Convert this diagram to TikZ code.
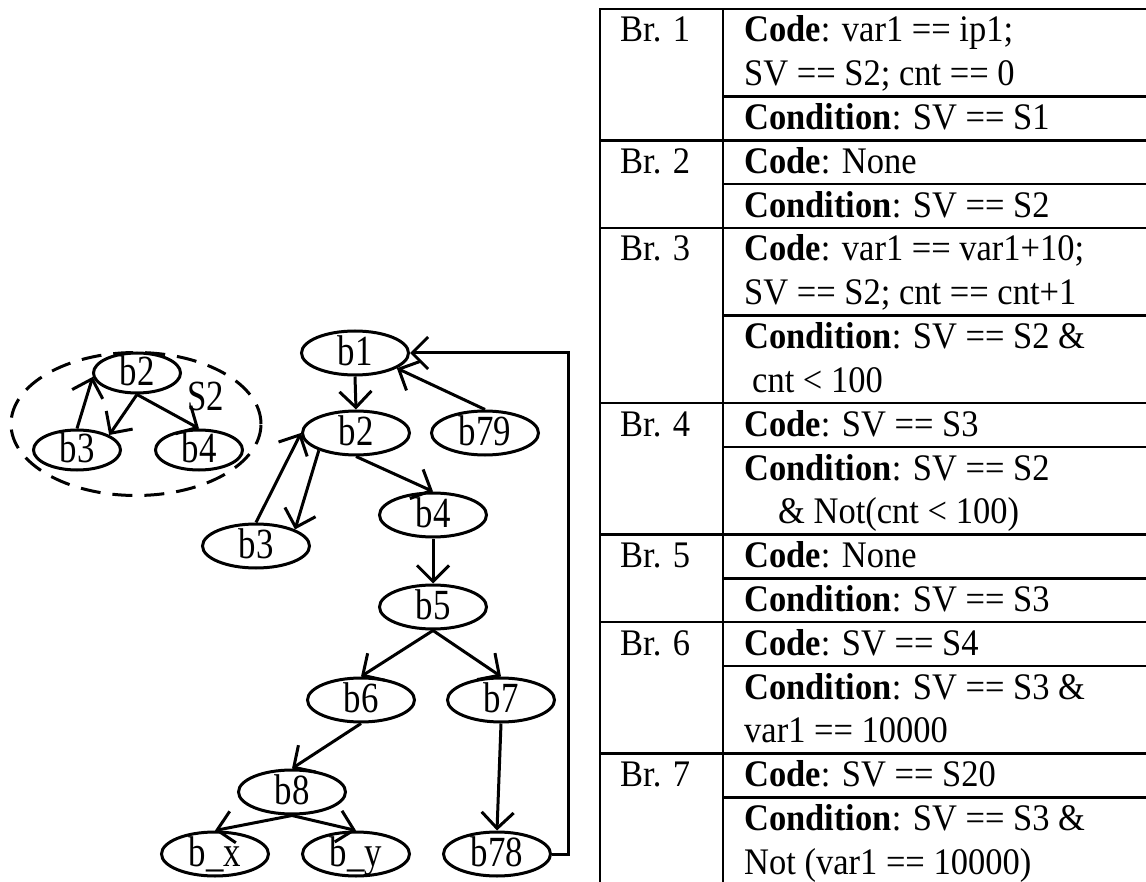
\documentclass[tikz,border=0pt]{standalone}
\usepackage{fontspec}
\setmainfont{Liberation Serif}
\newfontfamily\tabfont{Liberation Serif}[FakeStretch=0.92]
\newfontfamily\grfont{Liberation Serif}[FakeStretch=0.81]
\usetikzlibrary{arrows.meta,shapes.geometric}

\begin{document}
\begin{tikzpicture}[x=1pt,y=-1pt,
  blk/.style={ellipse, draw, line width=3pt, inner sep=0pt,
    minimum width=107pt, minimum height=44pt,
    font=\grfont\fontsize{43}{43}\selectfont, text height=25pt, text depth=0pt},
  sblk/.style={blk, minimum width=87pt, minimum height=40pt},
  grp/.style={ellipse, draw, line width=3pt, dash pattern=on 20pt off 12pt,
    minimum width=250pt, minimum height=143pt, inner sep=0pt},
  lbl/.style={anchor=base, inner sep=0pt, font=\grfont\fontsize{43}{43}\selectfont},
  arr/.style={line width=3pt, -{Straight Barb[length=16pt,width=32pt]}},
  rule/.style={line width=2.5pt},
  cell/.style={anchor=base west, inner sep=0pt,
    font=\tabfont\fontsize{37.5}{43.8}\selectfont},
]
\useasboundingbox (0,0) rectangle (1146,882);

% ---- state S2 as a group ----
\node[grp] (grp) at (136,424) {};
\node[sblk] (s2) at (137,373) {b2};
\node[sblk] (s3) at (77,450) {b3};
\node[sblk] (s4) at (199,450) {b4};
\node[lbl] (s2name) at (206,411) {S2};
\draw[arr] (s3.north) -- (s2.185);
\draw[arr] (s2.south) -- (s3.25);
\draw[arr] (s2.south) -- (s4.north);

% ---- control flow graph ----
\node[blk] (b1) at (355,353) {b1};
\node[blk] (b2) at (356,433) {b2};
\node[blk] (b79) at (485,433) {b79};
\node[blk] (b3) at (256,546) {b3};
\node[blk] (b4) at (433,515) {b4};
\node[blk] (b5) at (433,607) {b5};
\node[blk] (b6) at (361,700) {b6};
\node[blk] (b7) at (501,700) {b7};
\node[blk] (b8) at (292,792) {b8};
\node[blk] (bx) at (215,854) {b\_x};
\node[blk] (by) at (356,854) {b\_y};
\node[blk] (b78) at (497,854) {b78};

\draw[arr] (b1.south) -- (b2.north);
\draw[arr] (b79.north) -- (b1.-20);
\draw[arr] (b3.north) -- (b2.west);
\draw[arr] (b2.205) -- (b3.23);
\draw[arr] (b2.south) -- (b4.north);
\draw[arr] (b4.south) -- (b5.north);
\draw[arr] (b5.south) -- (b6.north);
\draw[arr] (b5.south) -- (b7.north);
\draw[arr] (b6.south) -- (b8.north);
\draw[arr] (b7.south) -- (b78.north);
\draw[arr] (b8.south) -- (bx.north);
\draw[arr] (b8.south) -- (by.north);
\coordinate (back) at (568,353);
\draw[arr] (b78.east) -| (back) -- (b1.east);

% ---- branch table ----
\node[cell] (br1) at (620,42) {Br. 1};
\node[cell] (c1a) at (744,42) {\textbf{Code}: var1 == ip1;};
\node[cell] (c1b) at (744,85.8) {SV == S2; cnt == 0};
\node[cell] (k1) at (744,129.6) {\textbf{Condition}: SV == S1};

\node[cell] (br2) at (620,173.4) {Br. 2};
\node[cell] (c2) at (744,173.4) {\textbf{Code}: None};
\node[cell] (k2) at (744,217.2) {\textbf{Condition}: SV == S2};

\node[cell] (br3) at (620,261) {Br. 3};
\node[cell] (c3a) at (744,261) {\textbf{Code}: var1 == var1+10;};
\node[cell] (c3b) at (744,304.8) {SV == S2; cnt == cnt+1};
\node[cell] (k3a) at (744,348.6) {\textbf{Condition}: SV == S2 \&};
\node[cell] (k3b) at (744,392.4) {\hspace*{8pt}cnt < 100};

\node[cell] (br4) at (620,436.2) {Br. 4};
\node[cell] (c4) at (744,436.2) {\textbf{Code}: SV == S3};
\node[cell] (k4a) at (744,480) {\textbf{Condition}: SV == S2};
\node[cell] (k4b) at (744,523.8) {\hspace*{34pt}\& Not(cnt < 100)};

\node[cell] (br5) at (620,567.6) {Br. 5};
\node[cell] (c5) at (744,567.6) {\textbf{Code}: None};
\node[cell] (k5) at (744,611.4) {\textbf{Condition}: SV == S3};

\node[cell] (br6) at (620,655.2) {Br. 6};
\node[cell] (c6) at (744,655.2) {\textbf{Code}: SV == S4};
\node[cell] (k6a) at (744,699) {\textbf{Condition}: SV == S3 \&};
\node[cell] (k6b) at (744,742.8) {var1 == 10000};

\node[cell] (br7) at (620,786.6) {Br. 7};
\node[cell] (c7) at (744,786.6) {\textbf{Code}: SV == S20};
\node[cell] (k7a) at (744,830.4) {\textbf{Condition}: SV == S3 \&};
\node[cell] (k7b) at (744,874.2) {Not (var1 == 10000)};

% table rules
\draw[rule] (600,882) -- (600,9) -- (1146,9);
\draw[rule] (723,9) -- (723,882);
\foreach \y in {140.4,228,403.2,534.6,622.2,753.6}
  \draw[rule] (600,\y) -- (1146,\y);
\foreach \y in {96.6,184.2,315.6,447,578.4,666,797.4}
  \draw[rule] (723,\y) -- (1146,\y);
\end{tikzpicture}
\end{document}
